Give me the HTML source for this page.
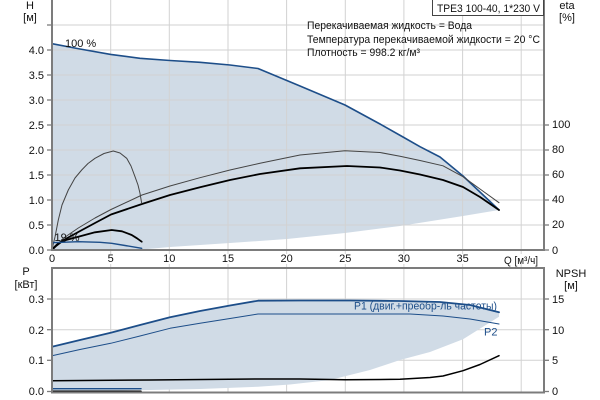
<!DOCTYPE html>
<html><head><meta charset="utf-8">
<style>
html,body{margin:0;padding:0;background:#fff;}
svg{display:block;}
text{font-family:"Liberation Sans",Arial,sans-serif;font-size:11px;fill:#111;}
</style></head>
<body>
<svg width="600" height="400" viewBox="0 0 600 400" xmlns="http://www.w3.org/2000/svg">
<!-- TOP CHART -->
<!-- shading -->
<polygon fill="#d0dbe6" points="52,43.7 80,49 110.7,54.4 140,58.3 170,60.5 200,62.3 230,65 258,68.5 300,86 345,105 380,124 403,137 420,146.7 440,157 463,176 499,210 463,216 400,226 345,233 287,239 230,243 170,247 142,249.5 52,250"/>
<!-- grid -->
<g stroke="#d2d2d2" stroke-width="1" fill="none">
<line x1="52" y1="25" x2="544" y2="25"/>
<line x1="52" y1="50" x2="544" y2="50"/>
<line x1="52" y1="75" x2="544" y2="75"/>
<line x1="52" y1="100" x2="544" y2="100"/>
<line x1="52" y1="125" x2="544" y2="125"/>
<line x1="52" y1="150" x2="544" y2="150"/>
<line x1="52" y1="175" x2="544" y2="175"/>
<line x1="52" y1="200" x2="544" y2="200"/>
<line x1="52" y1="225" x2="544" y2="225"/>
<line x1="110.7" y1="0" x2="110.7" y2="250"/>
<line x1="169.3" y1="0" x2="169.3" y2="250"/>
<line x1="228" y1="0" x2="228" y2="250"/>
<line x1="286.6" y1="0" x2="286.6" y2="250"/>
<line x1="345.3" y1="0" x2="345.3" y2="250"/>
<line x1="403.9" y1="0" x2="403.9" y2="250"/>
<line x1="462.6" y1="0" x2="462.6" y2="250"/>
<line x1="521.2" y1="0" x2="521.2" y2="250"/>
<!-- bottom chart grid -->
<line x1="52" y1="299" x2="544" y2="299"/>
<line x1="52" y1="329.7" x2="544" y2="329.7"/>
<line x1="52" y1="360.3" x2="544" y2="360.3"/>
<line x1="110.7" y1="268" x2="110.7" y2="392"/>
<line x1="169.3" y1="268" x2="169.3" y2="392"/>
<line x1="228" y1="268" x2="228" y2="392"/>
<line x1="286.6" y1="268" x2="286.6" y2="392"/>
<line x1="345.3" y1="268" x2="345.3" y2="392"/>
<line x1="403.9" y1="268" x2="403.9" y2="392"/>
<line x1="462.6" y1="268" x2="462.6" y2="392"/>
<line x1="521.2" y1="268" x2="521.2" y2="392"/>
<!-- tick stubs between charts -->
<line x1="110.7" y1="250" x2="110.7" y2="254"/><line x1="110.7" y1="264" x2="110.7" y2="268"/>
<line x1="169.3" y1="250" x2="169.3" y2="254"/><line x1="169.3" y1="264" x2="169.3" y2="268"/>
<line x1="228" y1="250" x2="228" y2="254"/><line x1="228" y1="264" x2="228" y2="268"/>
<line x1="286.6" y1="250" x2="286.6" y2="254"/><line x1="286.6" y1="264" x2="286.6" y2="268"/>
<line x1="345.3" y1="250" x2="345.3" y2="254"/><line x1="345.3" y1="264" x2="345.3" y2="268"/>
<line x1="403.9" y1="250" x2="403.9" y2="254"/><line x1="403.9" y1="264" x2="403.9" y2="268"/>
<line x1="462.6" y1="250" x2="462.6" y2="254"/><line x1="462.6" y1="264" x2="462.6" y2="268"/>
<line x1="521.2" y1="250" x2="521.2" y2="254"/><line x1="521.2" y1="264" x2="521.2" y2="268"/>
</g>

<!-- top curves -->
<g fill="none" stroke-linejoin="round" stroke-linecap="round">
<polyline stroke="#1d4e89" stroke-width="1.6" points="52,43.7 80,49 110.7,54.4 140,58.3 170,60.5 200,62.3 230,65 258,68.5 300,86 345,105 380,124 403,137 420,146.7 440,157 463,176 499,210"/>
<polyline stroke="#444" stroke-width="1" points="52,250 56,245.5 63.7,238 78.3,228 95,218 111,209.5 142,195 170,186 200,177.7 230,170 260,163.3 300,155 345,150.7 380,152.5 400,156.3 420,160.5 443,165.8 463,176.7 480,189 499,202.7"/>
<polyline stroke="#000" stroke-width="1.8" points="52,250 56,246 63.7,240 78.3,232 95,223 111,214.5 142,204 170,195 200,187.3 230,180 260,174 300,168.3 347,166 380,167.5 400,170.5 420,174.5 443,180 463,187 480,197 499,210"/>
<polyline stroke="#444" stroke-width="1" points="52,249.3 55,237 58.3,220 62,205 68.3,190 75,178 81.7,170 88,163.5 95,158.3 104,153.5 113.3,151 120,153 126.7,158.3 131,166 135,176.7 138,185 140,193.3 141.7,203.3"/>
<polyline stroke="#000" stroke-width="1.8" points="52,249.3 58.3,243.3 66,240 78.3,236.7 95,232.3 111.7,230 122,231.3 131.7,235 137,238.3 141.7,241.7"/>
<polyline stroke="#1d4e89" stroke-width="1.4" points="52,242.7 78.3,241.7 100,242.3 111.7,243.3 125,245.5 141.7,248.3"/>
</g>

<!-- BOTTOM CHART -->
<polygon fill="#d0dbe6" points="52,346.7 80,340 110.7,332.7 140,325 170,317.3 200,311 230,305.5 258,300.7 300,300.5 350,300.5 400,301 440,302 470,305 499,312.3 499,316.7 463,339.3 430,352 400,360 370,370 330,380 290,384.5 258,386.7 200,389 150,390 52,391.5"/>
<g fill="none" stroke-linejoin="round" stroke-linecap="round">
<polyline stroke="#1d4e89" stroke-width="1.8" points="52,346.7 80,340 110.7,332.7 140,325 170,317.3 200,311 230,305.5 258,300.7 300,300.5 350,300.5 400,301 440,302 470,305 499,312.3"/>
<polyline stroke="#1d4e89" stroke-width="1" points="52,355.7 80,349.5 110.7,343.3 140,336 170,328.3 200,323.3 230,318.5 258,314 300,314 350,314 410,314 443,316 470,319 499,324"/>
<polyline stroke="#000" stroke-width="1.5" points="52,380.7 150,380 258,379 300,379 345,379.8 400,379.3 430,377.5 443,376 463,370.7 480,364.5 499,355.7"/>
<polyline stroke="#1d4e89" stroke-width="1.4" points="52,388.7 141,388.7"/>
<polyline stroke="#000" stroke-width="1.5" points="52,391.3 141,391.3"/>
</g>

<!-- axes -->
<g stroke="#7c7c7c" stroke-width="2" fill="none">
<line x1="52" y1="0" x2="52" y2="251"/>
<line x1="544" y1="0" x2="544" y2="251"/>
<line x1="51" y1="250" x2="545" y2="250"/>
<line x1="51" y1="268" x2="545" y2="268"/>
<line x1="52" y1="268" x2="52" y2="393"/>
<line x1="544" y1="268" x2="544" y2="393"/>
<line x1="51" y1="392.5" x2="545" y2="392.5"/>
</g>
<g stroke="#7c7c7c" stroke-width="1.3">
<!-- left ticks top -->
<line x1="47" y1="25" x2="52" y2="25"/><line x1="47" y1="50" x2="52" y2="50"/><line x1="47" y1="75" x2="52" y2="75"/>
<line x1="47" y1="100" x2="52" y2="100"/><line x1="47" y1="125" x2="52" y2="125"/><line x1="47" y1="150" x2="52" y2="150"/>
<line x1="47" y1="175" x2="52" y2="175"/><line x1="47" y1="200" x2="52" y2="200"/><line x1="47" y1="225" x2="52" y2="225"/>
<line x1="47" y1="250" x2="52" y2="250"/>
<!-- right ticks top -->
<line x1="544" y1="125" x2="549" y2="125"/><line x1="544" y1="150" x2="549" y2="150"/><line x1="544" y1="175" x2="549" y2="175"/>
<line x1="544" y1="200" x2="549" y2="200"/><line x1="544" y1="225" x2="549" y2="225"/><line x1="544" y1="250" x2="549" y2="250"/>
<!-- bottom ticks -->
<line x1="47" y1="299" x2="52" y2="299"/><line x1="47" y1="329.7" x2="52" y2="329.7"/><line x1="47" y1="360.3" x2="52" y2="360.3"/><line x1="47" y1="391.5" x2="52" y2="391.5"/>
<line x1="544" y1="299" x2="549" y2="299"/><line x1="544" y1="329.7" x2="549" y2="329.7"/><line x1="544" y1="360.3" x2="549" y2="360.3"/><line x1="544" y1="391.5" x2="549" y2="391.5"/>
</g>

<!-- header box -->
<rect x="432.5" y="-1" width="111" height="16.5" fill="#fff" stroke="#444" stroke-width="1"/>
<text x="437" y="12" textLength="103" lengthAdjust="spacingAndGlyphs">TPE3 100-40, 1*230 V</text>

<!-- info text -->
<text x="307" y="29" textLength="165" lengthAdjust="spacingAndGlyphs">Перекачиваемая жидкость = Вода</text>
<text x="307" y="43" textLength="233" lengthAdjust="spacingAndGlyphs">Температура перекачиваемой жидкости = 20 °C</text>
<text x="307" y="56" textLength="113" lengthAdjust="spacingAndGlyphs">Плотность = 998.2 кг/м³</text>

<!-- axis titles -->
<text x="30" y="9" text-anchor="middle">H</text>
<text x="30" y="21" text-anchor="middle">[м]</text>
<text x="567" y="9" text-anchor="middle">eta</text>
<text x="567" y="21" text-anchor="middle">[%]</text>
<text x="26" y="275" text-anchor="middle">P</text>
<text x="26" y="288" text-anchor="middle">[кВт]</text>
<text x="571" y="277" text-anchor="middle">NPSH</text>
<text x="571" y="289" text-anchor="middle">[м]</text>

<!-- left tick labels top -->
<g text-anchor="end">
<text x="44" y="54">4.0</text>
<text x="44" y="79">3.5</text>
<text x="44" y="104">3.0</text>
<text x="44" y="129">2.5</text>
<text x="44" y="154">2.0</text>
<text x="44" y="179">1.5</text>
<text x="44" y="204">1.0</text>
<text x="44" y="229">0.5</text>
<text x="44" y="254">0.0</text>
<text x="44" y="303">0.3</text>
<text x="44" y="334">0.2</text>
<text x="44" y="364">0.1</text>
<text x="44" y="395">0.0</text>
</g>
<!-- right tick labels -->
<text x="552" y="128">100</text>
<text x="552" y="153">80</text>
<text x="552" y="178">60</text>
<text x="552" y="203">40</text>
<text x="552" y="228">20</text>
<text x="552" y="254">0</text>
<text x="552" y="303">15</text>
<text x="552" y="334">10</text>
<text x="552" y="364">5</text>
<text x="552" y="395">0</text>

<!-- x tick labels -->
<g text-anchor="middle">
<text x="52" y="262">0</text>
<text x="110.7" y="262">5</text>
<text x="169.3" y="262">10</text>
<text x="228" y="262">15</text>
<text x="286.6" y="262">20</text>
<text x="345.3" y="262">25</text>
<text x="403.9" y="262">30</text>
<text x="462.6" y="262">35</text>
</g>
<text x="504" y="264" textLength="34" lengthAdjust="spacingAndGlyphs">Q [м³/ч]</text>

<!-- curve labels -->
<text x="65" y="47">100 %</text>
<text x="54.5" y="241">19 %</text>
<text x="354" y="309.5" style="fill:#1d4e89" textLength="143" lengthAdjust="spacingAndGlyphs">P1 (двиг.+преобр-ль частоты)</text>
<text x="484" y="335.5" style="fill:#1d4e89">P2</text>
</svg>
</body></html>
